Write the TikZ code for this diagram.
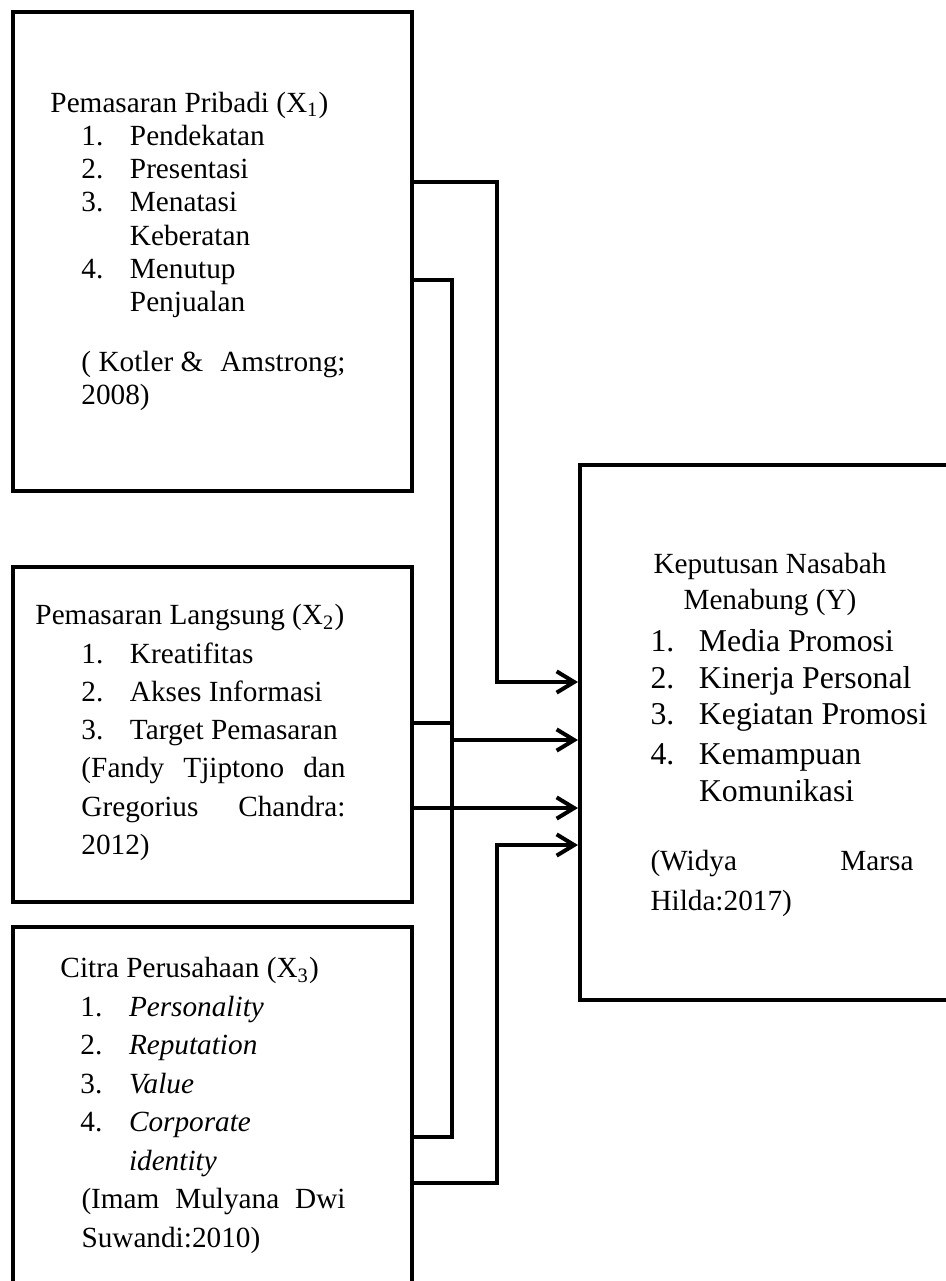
\documentclass[tikz,border=0pt]{standalone}
\usepackage{fontspec}
\setmainfont{Liberation Serif}
\usepackage{tikz}
\usetikzlibrary{arrows.meta}
\newcommand{\nitem}[1]{\makebox[19.4pt][l]{#1}}
\newcommand{\jline}[2][105.6pt]{\hbox to #1{#2}}
\tikzset{
  varbox/.style   = {shape=rectangle, draw, line width=1.6pt, inner sep=0pt},
  vartext/.style  = {anchor=west, align=left, inner sep=0pt,
                     font=\fontsize{11.7pt}{15.3pt}\selectfont},
  link/.style     = {line width=1.6pt},
  arrowlink/.style= {link, -{Straight Barb[length=7pt,width=8.5pt]}}
}

\begin{document}
\begin{tikzpicture}[x=0.4pt,y=-0.4pt]
  \clip (0,0) rectangle (946,1281);

  % variable boxes
  \node[varbox, minimum width=159.6pt, minimum height=191.6pt] (x1) at (212.5,251.5) {};
  \node[varbox, minimum width=159.6pt, minimum height=134pt] (x2) at (212.5,734.5) {};
  \node[varbox, minimum width=159.6pt, minimum height=142.8pt] (x3) at (212.5,1105.5) {};
  \node[varbox, minimum width=164pt, minimum height=214pt] (yb) at (785,732.5) {};

  \node[vartext, font=\fontsize{11.7pt}{13.3pt}\selectfont] (x1t) at ([xshift=15.6pt]x1.west)
    {Pemasaran Pribadi (X\textsubscript{1})\\
     \hspace*{12.4pt}\nitem{1.}Pendekatan\\
     \hspace*{12.4pt}\nitem{2.}Presentasi\\
     \hspace*{12.4pt}\nitem{3.}Menatasi\\
     \hspace*{12.4pt}\nitem{}Keberatan\\
     \hspace*{12.4pt}\nitem{4.}Menutup\\
     \hspace*{12.4pt}\nitem{}Penjualan\\[10.7pt]
     \hspace*{12.4pt}\jline{( Kotler \&\hfill Amstrong;}\\
     \hspace*{12.4pt}2008)};

  \node[vartext] (x2t) at ([xshift=9.6pt,yshift=0.8pt]x2.west)
    {Pemasaran Langsung (X\textsubscript{2})\\
     \hspace*{18.4pt}\nitem{1.}Kreatifitas\\
     \hspace*{18.4pt}\nitem{2.}Akses Informasi\\
     \hspace*{18.4pt}\nitem{3.}Target Pemasaran\\
     \hspace*{18.4pt}\jline{(Fandy\hfill Tjiptono\hfill dan}\\
     \hspace*{18.4pt}\jline{Gregorius\hfill Chandra:}\\
     \hspace*{18.4pt}2012)};

  \node[vartext, font=\fontsize{11.7pt}{15.4pt}\selectfont] (x3t) at ([xshift=19.6pt]x3.west)
    {Citra Perusahaan (X\textsubscript{3})\\
     \hspace*{8pt}\nitem{1.}\textit{Personality}\\
     \hspace*{8pt}\nitem{2.}\textit{Reputation}\\
     \hspace*{8pt}\nitem{3.}\textit{Value}\\
     \hspace*{8pt}\nitem{4.}\textit{Corporate}\\
     \hspace*{8pt}\nitem{}\textit{identity}\\
     \hspace*{8.4pt}\jline{(Imam\hfill Mulyana\hfill Dwi}\\
     \hspace*{8.4pt}Suwandi:2010)};

  \node[vartext, font=\fontsize{12.7pt}{14.6pt}\selectfont] (yt) at ([xshift=28.8pt,yshift=-0.8pt]yb.west)
    {\hspace*{1.2pt}{\fontsize{11.7pt}{14.6pt}\selectfont Keputusan Nasabah}\\
     \hspace*{13.2pt}{\fontsize{11.7pt}{14.6pt}\selectfont Menabung (Y)}\\[2.2pt]
     \nitem{1.}Media Promosi\\
     \nitem{2.}Kinerja Personal\\
     \nitem{3.}Kegiatan Promosi\\[1.4pt]
     \nitem{4.}Kemampuan\\
     \nitem{}Komunikasi\\[13pt]
     {\fontsize{11.7pt}{14.6pt}\selectfont\jline[105.2pt]{(Widya\hfill Marsa}}\\[1.4pt]
     {\fontsize{11.7pt}{14.6pt}\selectfont Hilda:2017)}};

  % connectors
  \coordinate (busA) at (452,0);
  \coordinate (busB) at (497,0);
  \draw[arrowlink] (x1.east |- 0,182) -| (busB |- 0,682) -- (yb.west |- 0,682);
  \draw[link] (x1.east |- 0,280) -| (busA |- 0,1137) -- (x3.east |- 0,1137);
  \draw[link] (x2.east |- 0,723) -- (busA |- 0,723);
  \draw[arrowlink] (busA |- 0,740) -- (yb.west |- 0,740);
  \draw[arrowlink] (x2.east |- 0,808) -- (yb.west |- 0,808);
  \draw[arrowlink] (x3.east |- 0,1183) -| (busB |- 0,845) -- (yb.west |- 0,845);
\end{tikzpicture}
\end{document}
